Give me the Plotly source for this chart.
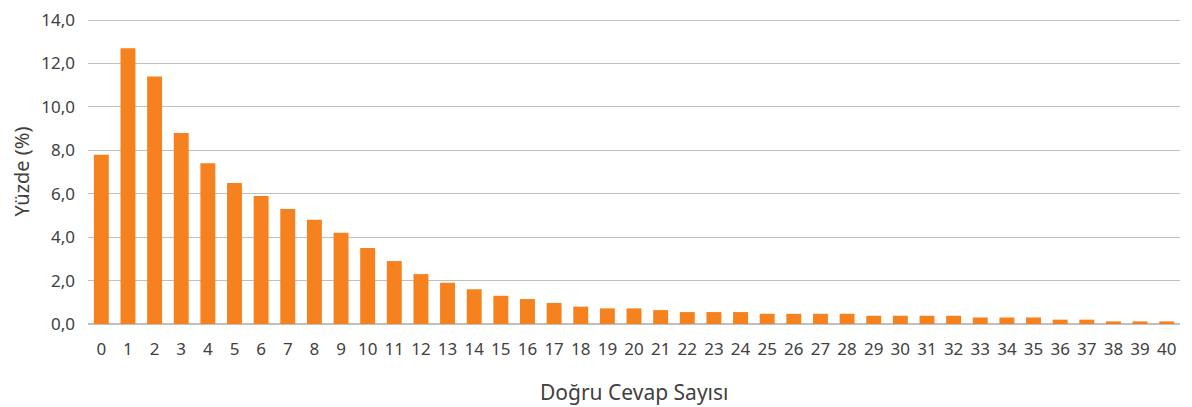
import plotly.graph_objects as go

dogru_cevap = list(range(0, 41))
yuzde = [7.8, 12.7, 11.4, 8.8, 7.4, 6.5, 5.9, 5.3, 4.8, 4.2,
         3.5, 2.9, 2.3, 1.9, 1.6, 1.3, 1.15, 0.97, 0.8, 0.72,
         0.72, 0.64, 0.55, 0.55, 0.55, 0.47, 0.47, 0.47, 0.47, 0.38,
         0.38, 0.38, 0.38, 0.3, 0.3, 0.3, 0.2, 0.2, 0.12, 0.12, 0.12]

bar_color = '#F5821F'
text_color = '#404040'
font_family = 'Noto Sans, Lato, sans-serif'

fig = go.Figure()

fig.add_trace(go.Bar(
    x=dogru_cevap,
    y=yuzde,
    marker=dict(color=bar_color, line=dict(width=0)),
))

# page body has an 8px margin, so the figure is sized 8px smaller
fig.update_layout(
    width=1184,
    height=399,
    separators=',.',
    plot_bgcolor='white',
    paper_bgcolor='white',
    bargap=0.44,
    showlegend=False,
    margin=dict(l=80, r=12, t=11, b=83),
    font=dict(family=font_family, size=17, color=text_color),
    xaxis=dict(
        tickmode='array',
        tickvals=dogru_cevap,
        ticktext=[str(v) for v in dogru_cevap],
        showgrid=False,
        showline=False,
        ticks='',
        range=[-0.5, 40.5],
        automargin=False,
        ticklabelstandoff=13,
    ),
    yaxis=dict(
        title=dict(text='Yüzde (%)'),
        range=[0, 14.05],
        tickmode='array',
        tickvals=[0, 2, 4, 6, 8, 10, 12, 14],
        tickformat='.1f',
        showgrid=True,
        gridcolor='#bfbfbf',
        gridwidth=1,
        zeroline=True,
        zerolinecolor='#bfbfbf',
        zerolinewidth=2,
        ticks='',
        ticklabelstandoff=12,
        ticklabeloverflow='allow',
        automargin=False,
    ),
    annotations=[dict(
        text='Doğru Cevap Sayısı',
        xref='paper', yref='paper',
        x=0.5, y=-0.223,
        xanchor='center', yanchor='middle',
        showarrow=False,
        font=dict(family=font_family, size=21, color=text_color),
    )],
)

fig.write_html("out.html")
